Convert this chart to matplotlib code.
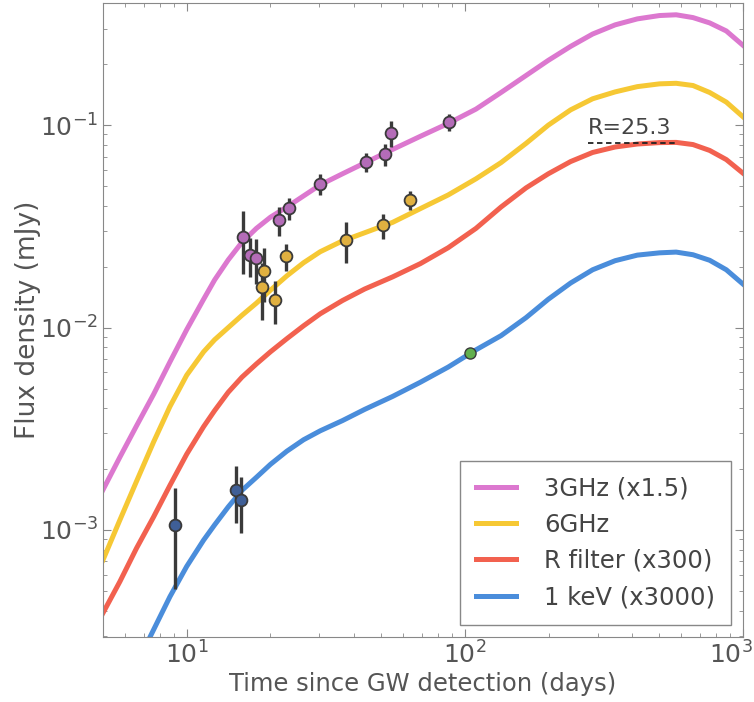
import matplotlib.pyplot as plt
import matplotlib.transforms as mtransforms

# model light curves: time since GW detection (days) and flux density (mJy, already scaled)
t_model = [5, 5.75, 6.6, 7.6, 8.7, 10, 11.5, 12.6, 14.1, 15.8, 17.8, 20, 22.9, 26.3, 30.2, 36.3, 43.6,
           55, 69.2, 87.1, 109.6, 134.9, 166, 199.5, 240, 288, 347, 417, 501, 575, 661, 759, 871, 1000]

f_3ghz = [1.58e-3, 2.29e-3, 3.27e-3, 4.68e-3, 6.76e-3, 9.77e-3, 1.38e-2, 1.72e-2, 2.16e-2, 2.64e-2,
          3.09e-2, 3.51e-2, 3.94e-2, 4.47e-2, 5.07e-2, 5.75e-2, 6.50e-2, 7.59e-2, 8.81e-2, 0.102,
          0.120, 0.145, 0.176, 0.209, 0.245, 0.282, 0.313, 0.335, 0.348, 0.351, 0.340, 0.320, 0.292, 0.248]

f_6ghz = [7.11e-4, 1.12e-3, 1.74e-3, 2.72e-3, 4.07e-3, 5.82e-3, 7.59e-3, 8.71e-3, 1.0e-2, 1.15e-2,
          1.32e-2, 1.53e-2, 1.80e-2, 2.09e-2, 2.37e-2, 2.68e-2, 2.94e-2, 3.31e-2, 3.87e-2, 4.52e-2,
          5.43e-2, 6.53e-2, 8.13e-2, 0.100, 0.119, 0.135, 0.146, 0.155, 0.160, 0.161, 0.157, 0.145, 0.130, 0.110]

f_r = [3.89e-4, 5.56e-4, 8.13e-4, 1.16e-3, 1.66e-3, 2.37e-3, 3.24e-3, 3.89e-3, 4.79e-3, 5.69e-3,
       6.61e-3, 7.59e-3, 8.81e-3, 1.02e-2, 1.17e-2, 1.36e-2, 1.55e-2, 1.78e-2, 2.07e-2, 2.48e-2,
       3.09e-2, 3.94e-2, 4.90e-2, 5.75e-2, 6.61e-2, 7.33e-2, 7.80e-2, 8.07e-2, 8.20e-2, 8.22e-2,
       8.02e-2, 7.50e-2, 6.76e-2, 5.79e-2]

t_xray = [7.38, 7.94, 8.7, 10, 11.5, 12.6, 14.1, 15.8, 17.8, 20, 22.9, 26.3, 30.2, 36.3, 43.6,
          55, 69.2, 87.1, 109.6, 134.9, 166, 199.5, 240, 288, 347, 417, 501, 575, 661, 759, 871, 1000]
f_xray = [2.96e-4, 3.63e-4, 4.68e-4, 6.61e-4, 8.91e-4, 1.06e-3, 1.30e-3, 1.57e-3, 1.82e-3, 2.11e-3,
          2.45e-3, 2.79e-3, 3.09e-3, 3.47e-3, 3.94e-3, 4.57e-3, 5.37e-3, 6.38e-3, 7.76e-3, 9.12e-3,
          1.12e-2, 1.38e-2, 1.66e-2, 1.93e-2, 2.14e-2, 2.28e-2, 2.34e-2, 2.36e-2, 2.29e-2, 2.15e-2,
          1.93e-2, 1.64e-2]

# observations
t_obs_3ghz = [16.0, 16.9, 17.8, 21.5, 23.4, 30.1, 44.1, 51.5, 54.2, 87.9]
f_obs_3ghz = [0.0281, 0.0228, 0.022, 0.034, 0.0389, 0.0512, 0.0656, 0.0719, 0.0913, 0.1035]
e_obs_3ghz = [0.0097, 0.005, 0.0055, 0.0055, 0.005, 0.006, 0.007, 0.009, 0.013, 0.01]

t_obs_6ghz = [18.7, 18.9, 20.8, 22.7, 37.4, 50.6, 63.4]
f_obs_6ghz = [0.0159, 0.0191, 0.0137, 0.0225, 0.027, 0.032, 0.0427]
e_obs_6ghz = [0.0050, 0.0057, 0.0033, 0.0035, 0.0062, 0.0045, 0.0045]

t_obs_x = [9.1, 15.0, 15.7]
f_obs_x = [1.06e-3, 1.58e-3, 1.40e-3]
e_obs_x = [5.5e-4, 5.0e-4, 4.3e-4]

t_obs_x2 = [104]
f_obs_x2 = [7.5e-3]

labels = ['3GHz (x1.5)', '6GHz', 'R filter (x300)', '1 keV (x3000)']
colors = ['#dc78cf', '#f6c834', '#f2614f', '#4a8ddb']

r_limit_t = [277, 571]
r_limit_f = [0.0815, 0.0815]
r_label = 'R=25.3'

txt = '#555555'
plt.rcParams['font.family'] = 'DejaVu Sans'

fig = plt.figure(figsize=(7.54, 7.02), dpi=100)
ax = fig.add_axes([0.1366, 0.0926, 0.8488, 0.9027])

curves = [(t_model, f_3ghz), (t_model, f_6ghz), (t_model, f_r), (t_xray, f_xray)]
for (t, f), c, lab in zip(curves, colors, labels):
    ax.plot(t, f, color=c, lw=3.6, label=lab, solid_joinstyle='round', zorder=2)

ebar = dict(fmt='o', ms=8.5, mec='#3a3a3a', mew=1.3, ecolor='#3a3a3a', elinewidth=2.4, capsize=0, zorder=4)
ax.errorbar(t_obs_3ghz, f_obs_3ghz, yerr=e_obs_3ghz, mfc='#b46cb8', **ebar)
ax.errorbar(t_obs_6ghz, f_obs_6ghz, yerr=e_obs_6ghz, mfc='#e0b040', **ebar)
ax.errorbar(t_obs_x, f_obs_x, yerr=e_obs_x, mfc='#3f5f97', **ebar)
ax.plot(t_obs_x2, f_obs_x2, 'o', ms=8, mfc='#62b04e', mec='#3a3a3a', mew=1.0, zorder=4)

ax.plot(r_limit_t, r_limit_f, ls='--', color='#222222', lw=1.3, dashes=(3, 2), zorder=3)
ax.text(r_limit_t[0], 0.0865, r_label, fontsize=16, color='#444444', ha='left', va='bottom')

ax.set_xscale('log')
ax.set_yscale('log')
ax.set_xlim(5, 1000)
ax.set_ylim(2.96e-4, 0.40)

ax.set_xlabel('Time since GW detection (days)', fontsize=17.5, color=txt, labelpad=2)
ax.set_ylabel('Flux density (mJy)', fontsize=19, color=txt)
ax.yaxis.set_label_coords(-0.097, 0.5)
ax.tick_params(which='both', direction='in', top=True, right=True, colors='#888888',
               labelcolor=txt, labelsize=18)
ax.tick_params(which='major', length=6)
ax.tick_params(which='minor', length=3)
for s in ax.spines.values():
    s.set_color('#888888')

leg = ax.legend(loc='lower right', fontsize=17.5, fancybox=False, framealpha=1, edgecolor='#888888',
                handlelength=1.65, handletextpad=1.15, labelspacing=0.5, borderaxespad=0.5, borderpad=0.65)
for txo in leg.get_texts():
    txo.set_color('#444444')

# last x tick label sits against the right edge, nudge it so it stays inside
fig.canvas.draw()
for tk in ax.xaxis.get_major_ticks():
    if abs(tk.get_loc() - 1000) < 1:
        tk.label1.set_horizontalalignment('right')
        tk.label1.set_transform(tk.label1.get_transform() +
                                mtransforms.ScaledTranslation(0.095, 0, fig.dpi_scale_trans))

fig.savefig('out.png', dpi=100)
